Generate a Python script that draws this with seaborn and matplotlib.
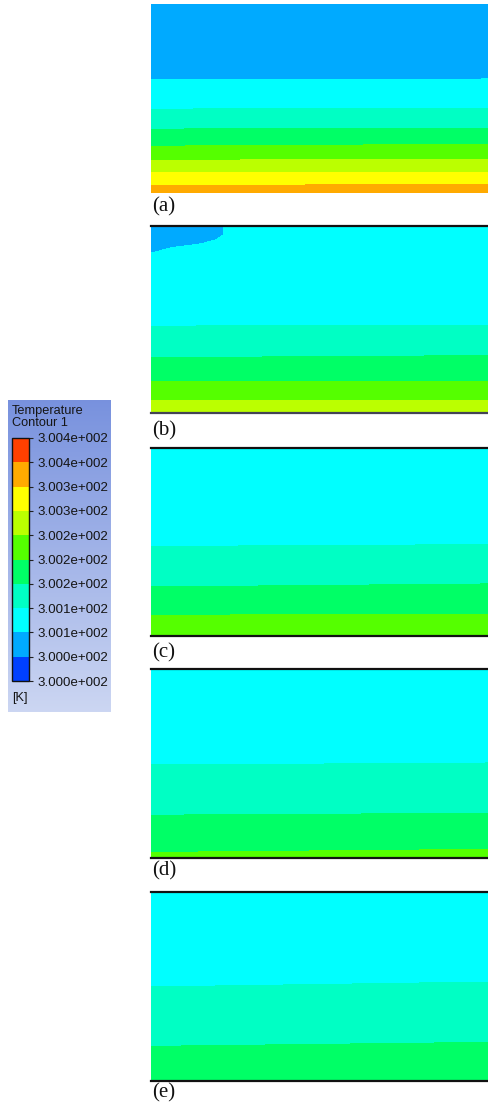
import numpy as np
import matplotlib
matplotlib.use("Agg")
import matplotlib.pyplot as plt
from matplotlib.colors import ListedColormap, BoundaryNorm
import seaborn as sns

# Contour levels (K) and the ten band colours, lowest first
levels = np.round(np.linspace(300.0, 300.4, 11), 2)
band_colors = ["#0040FF", "#00AAFF", "#00FFFF", "#00FFC4", "#00FF66",
               "#55FF00", "#BBFF00", "#FFFF00", "#FFAA00", "#FF4000"]

# Each section: band index (top to bottom) and the depth (0 = top, 1 = bottom)
# of every band's lower edge at the left and right ends of the section.
a_bands = [1, 2, 3, 4, 5, 6, 7, 8]
a_left = [0.397, 0.556, 0.661, 0.751, 0.825, 0.889, 0.958]
a_right = [0.392, 0.550, 0.656, 0.741, 0.820, 0.889, 0.952]

b_bands = [2, 3, 4, 5, 6]
b_left = [0.535, 0.701, 0.824, 0.930]
b_right = [0.529, 0.690, 0.824, 0.930]
# cooler pocket in the top-left corner of (b)
b_pocket_x = [0.0, 0.056, 0.145, 0.190, 0.210, 0.212]
b_pocket_depth = [0.139, 0.112, 0.091, 0.070, 0.045, 0.0]
b_pocket_band = 1

c_bands = [2, 3, 4, 5]
c_left = [0.521, 0.734, 0.888]
c_right = [0.511, 0.718, 0.883]

d_bands = [2, 3, 4, 5]
d_left = [0.503, 0.772, 0.968]
d_right = [0.492, 0.762, 0.952]

e_bands = [2, 3, 4]
e_left = [0.497, 0.815]
e_right = [0.471, 0.794]

panel_labels = ["(a)", "(b)", "(c)", "(d)", "(e)"]


def build_field(bands, left, right, nrows=190, ncols=340,
                pocket_x=None, pocket_depth=None, pocket_band=None):
    x = np.linspace(0, 1, ncols)
    depth = (np.arange(nrows) + 0.5) / nrows
    left = np.asarray(left)
    right = np.asarray(right)
    edges = left[:, None] + (right - left)[:, None] * x[None, :]
    idx = (depth[:, None, None] > edges[None, :, :]).sum(axis=1)
    band_idx = np.asarray(bands)[idx]
    if pocket_x is not None:
        pd_ = np.interp(x, pocket_x, pocket_depth, right=0.0)
        band_idx = np.where(depth[:, None] < pd_[None, :], pocket_band, band_idx)
    mids = (levels[:-1] + levels[1:]) / 2
    return mids[band_idx]


fields = [
    build_field(a_bands, a_left, a_right),
    build_field(b_bands, b_left, b_right, pocket_x=b_pocket_x,
                pocket_depth=b_pocket_depth, pocket_band=b_pocket_band),
    build_field(c_bands, c_left, c_right),
    build_field(d_bands, d_left, d_right),
    build_field(e_bands, e_left, e_right),
]

W, H = 489, 1108
fig = plt.figure(figsize=(W / 100, H / 100), dpi=100)
fig.patch.set_facecolor("white")


def px_axes(x0, y0, x1, y1, **kw):
    return fig.add_axes([x0 / W, 1 - y1 / H, (x1 - x0) / W, (y1 - y0) / H], **kw)


cmap = ListedColormap(band_colors)
norm = BoundaryNorm(levels, cmap.N)

# legend panel background (vertical gradient)
bg = px_axes(8, 400, 111, 712)
grad = np.linspace(0, 1, 256)[:, None]
bg_cmap = ListedColormap(np.column_stack([
    np.linspace(0.47, 0.80, 256), np.linspace(0.57, 0.84, 256),
    np.linspace(0.87, 0.95, 256)]))
bg.imshow(grad, aspect="auto", cmap=bg_cmap, extent=[0, 1, 0, 1])
bg.set_axis_off()

cax = px_axes(12, 438, 29, 681)

frames = [(4, 193), (226, 413), (448, 636), (669, 858), (892, 1081)]
label_y = [207, 431, 653, 871, 1093]

for i, (field, (top, bot)) in enumerate(zip(fields, frames)):
    ax = px_axes(151, top, 489, bot)
    sns.heatmap(field, ax=ax, cmap=cmap, norm=norm,
                cbar=(i == 0), cbar_ax=cax if i == 0 else None,
                cbar_kws={"ticks": levels} if i == 0 else None,
                xticklabels=False, yticklabels=False)
    ax.set_xticks([])
    ax.set_yticks([])
    if i > 0:
        for side in ("top", "bottom"):
            ax.spines[side].set_visible(True)
            ax.spines[side].set_color("#111111" if not (i == 1 and side == "bottom") else "#444455")
            ax.spines[side].set_linewidth(1.6)
    fig.text(152 / W, 1 - label_y[i] / H, panel_labels[i], ha="left", va="center",
             fontsize=15, family=["Liberation Serif", "DejaVu Serif"], color="#111111")

# colour legend
cb = fig.axes[2].collections[0].colorbar
cb.outline.set_linewidth(1.0)
cb.outline.set_edgecolor("#111111")
cb.set_ticks(levels)
cb.set_ticklabels([f"{v / 100:.3f}e+002" for v in levels])
cax.tick_params(axis="y", length=3, width=0.8, pad=3, colors="#222222",
                labelsize=9.6, labelcolor="#151515")
for t in cax.get_yticklabels():
    t.set_family(["Liberation Sans", "DejaVu Sans"])

sans = ["Liberation Sans", "DejaVu Sans"]
fig.text(12 / W, 1 - 411 / H, "Temperature", ha="left", va="center",
         fontsize=9.2, family=sans, color="#151515")
fig.text(12 / W, 1 - 423 / H, "Contour 1", ha="left", va="center",
         fontsize=9.2, family=sans, color="#151515")
fig.text(12 / W, 1 - 698 / H, "[K]", ha="left", va="center",
         fontsize=9.2, family=sans, color="#151515")

fig.savefig("out.png", dpi=100, facecolor="white")
